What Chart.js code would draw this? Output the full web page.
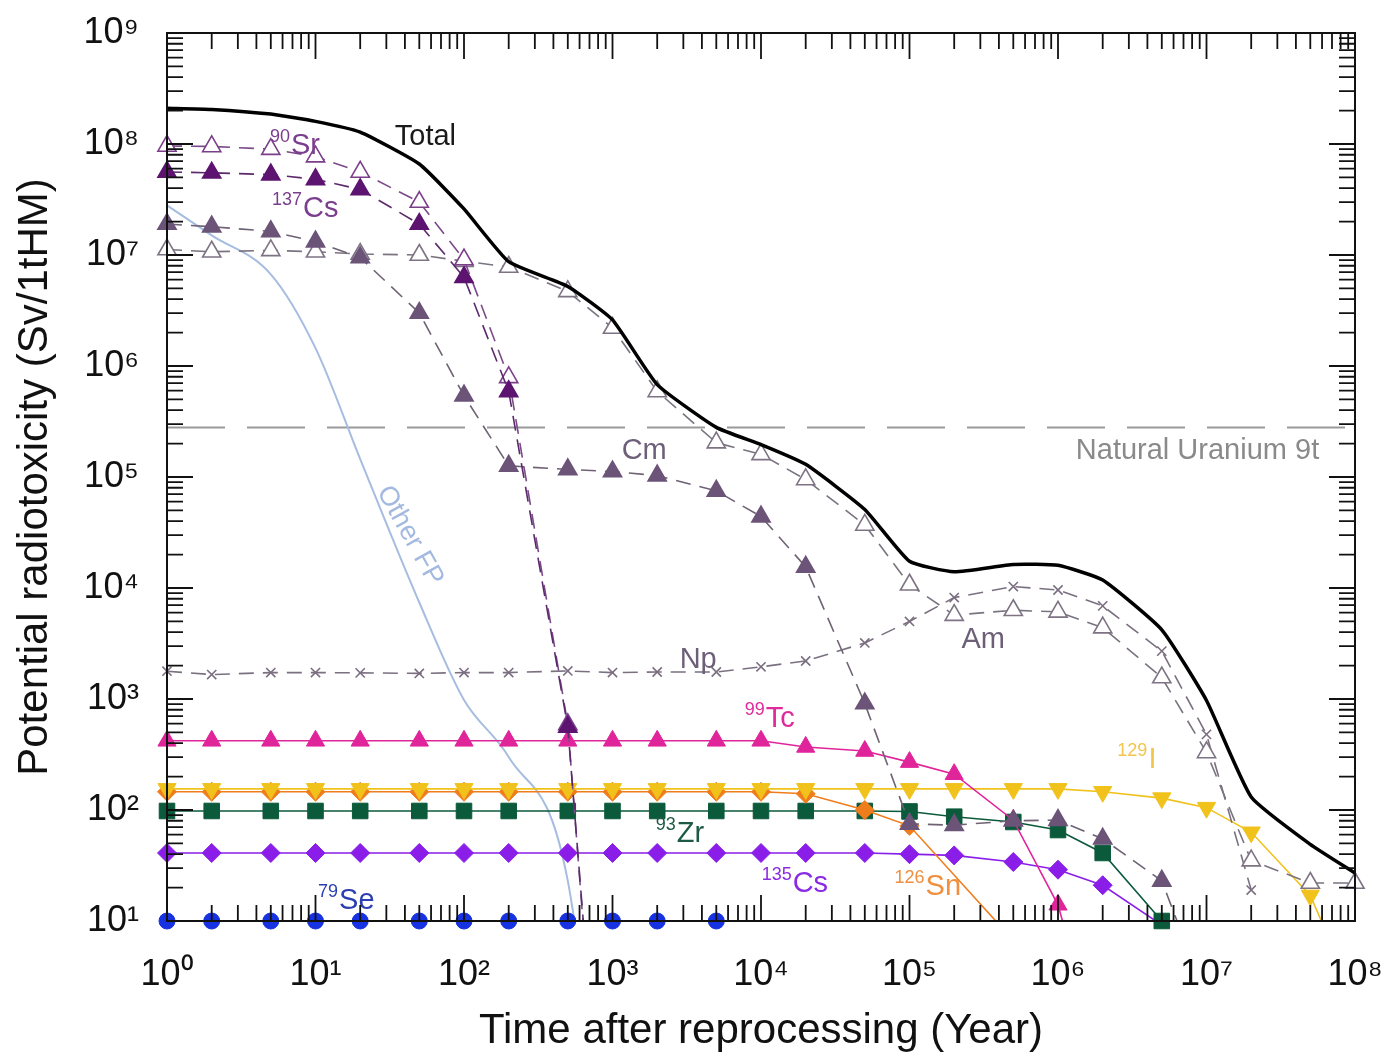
<!DOCTYPE html>
<html>
<head>
<meta charset="utf-8">
<title>Potential radiotoxicity after reprocessing</title>
<script src="https://cdn.jsdelivr.net/npm/chart.js@4.4.1/dist/chart.umd.min.js"></script>
<style>
  html, body { margin: 0; padding: 0; background: #fff; }
  #chart { display: block; }
</style>
</head>
<body>
<canvas id="chart" width="1388" height="1057"></canvas>
<script>
// Time points (years) shared by every series
const years = [1, 2, 5, 10, 20, 50, 100, 200, 500, 1e3, 2e3, 5e3, 1e4, 2e4, 5e4,
               1e5, 2e5, 5e5, 1e6, 2e6, 5e6, 1e7, 2e7, 5e7, 1e8];
const xTicks = [1, 1e1, 1e2, 1e3, 1e4, 1e5, 1e6, 1e7, 1e8];
const yTicks = [1e1, 1e2, 1e3, 1e4, 1e5, 1e6, 1e7, 1e8, 1e9];

// Potential radiotoxicity (Sv/1tHM)
const total   = [2.1e8, 2.05e8, 1.86e8, 1.6e8, 1.28e8, 6.6e7, 2.6e7, 8.7e6, 5.2e6, 2.6e6, 6.8e5, 2.8e5, 1.96e5,
                 1.3e5, 5.1e4, 1.74e4, 1.4e4, 1.63e4, 1.6e4, 1.18e4, 4.2e3, 970, 131, 49, 27];
const sr90    = [9.6e7, 9.5e7, 9e7, 7.7e7, 5.6e7, 3e7, 9.1e6, 7.9e5, 5.9e2, 3.5e-3, null, null, null,
                 null, null, null, null, null, null, null, null, null, null, null, null];
const cs137   = [5.6e7, 5.5e7, 5.3e7, 4.8e7, 3.9e7, 1.9e7, 6.3e6, 5.9e5, 5.6e2, 5e-3, null, null, null,
                 null, null, null, null, null, null, null, null, null, null, null, null];
const cm      = [1.9e7, 1.8e7, 1.63e7, 1.32e7, 9.5e6, 3.0e6, 5.4e5, 1.26e5, 1.17e5, 1.12e5, 1.03e5, 7.5e4, 4.4e4,
                 1.55e4, 9.1e2, 75, 73, 80, 81, 55, 23, 2, null, null, null];
const am      = [1.12e7, 1.07e7, 1.1e7, 1.07e7, 1.02e7, 1.0e7, 8.8e6, 7.8e6, 4.7e6, 2.2e6, 5.9e5, 2.04e5, 1.6e5,
                 9.5e4, 3.7e4, 1.07e4, 5.7e3, 6.3e3, 6.1e3, 4.4e3, 1.56e3, 3.3e2, 35, 22, 22];
const np      = [1.78e3, 1.66e3, 1.73e3, 1.73e3, 1.72e3, 1.7e3, 1.73e3, 1.73e3, 1.79e3, 1.73e3, 1.75e3, 1.75e3, 1.95e3,
                 2.2e3, 3.2e3, 5.0e3, 8.2e3, 1.03e4, 9.6e3, 6.9e3, 2.7e3, 4.8e2, 19, null, null];
const otherFP = [2.8e7, 1.5e7, 6.7e6, 1.45e6, 1.45e5, 7.4e3, 9.8e2, 3.0e2, 23, 1e-2, null, null, null,
                 null, null, null, null, null, null, null, null, null, null, null, null];
const tc99    = [420, 420, 420, 420, 420, 420, 420, 420, 420, 420, 420, 420, 420,
                 370, 340, 270, 210, 81, 14, 0.5, null, null, null, null, null];
const i129    = [155, 155, 155, 155, 155, 155, 155, 155, 155, 155, 155, 155, 155,
                 155, 155, 155, 155, 155, 155, 146, 128, 105, 63, 17, 2];
const sn126   = [146, 146, 146, 146, 146, 146, 146, 146, 146, 146, 146, 146, 146,
                 140, 100, 72, null, 6.7, null, null, null, null, null, null, null];
const zr93    = [98, 98, 98, 98, 98, 98, 98, 98, 98, 98, 98, 98, 98,
                 98, 98, 97, 87, 78, 66, 41, 10, null, null, null, null];
const cs135   = [41, 41, 41, 41, 41, 41, 41, 41, 41, 41, 41, 41, 41,
                 41, 41, 40, 39, 34, 29, 21, 9.2, null, null, null, null];
const se79    = [10, 10, 10, 10, 10, 10, 10, 10, 10, 10, 10, 10, null,
                 null, null, null, null, null, null, null, null, null, null, null, null];
const natUx   = [1, 1e8];
const natUy   = [2.79e5, 2.79e5];

// Curve annotations, placed in data coordinates
const curveLabels = [
  { sup: '',    text: 'Total',   x: 34.2,   y: 9.8e7,  color: '#1a1a1a' },
  { sup: '90',  text: 'Sr',      x: 4.93,   y: 8.1e7,  color: '#7b3d8e' },
  { sup: '137', text: 'Cs',      x: 5.09,   y: 2.18e7, color: '#7b3d8e' },
  { sup: '',    text: 'Cm',      x: 1153,   y: 1.44e5, color: '#6e5f78' },
  { sup: '',    text: 'Am',      x: 2.24e5, y: 2.9e3,  color: '#6e5f78' },
  { sup: '',    text: 'Np',      x: 2833,   y: 1.91e3, color: '#6e5f78' },
  { sup: '99',  text: 'Tc',      x: 7762,   y: 561,    color: '#e02a9c' },
  { sup: '129', text: 'I',       x: 2.51e6, y: 240,    color: '#f2c64a' },
  { sup: '93',  text: 'Zr',      x: 1954,   y: 51.5,   color: '#1d5a44' },
  { sup: '135', text: 'Cs',      x: 1.01e4, y: 18.2,   color: '#8a2be2' },
  { sup: '126', text: 'Sn',      x: 7.93e4, y: 17.1,   color: '#f08f3e' },
  { sup: '79',  text: 'Se',      x: 10.4,   y: 12.8,   color: '#2c3fb0' },
  { sup: '',    text: 'Natural Uranium 9t', x: 5.74e7, y: 1.44e5, color: '#8a8a8a', align: 'right' },
  { sup: '',    text: 'Other FP', x: 43.2,  y: 2.96e4, color: '#a3b9df', angle: 61 }
];

const FONT = '"Liberation Sans", Arial, Helvetica, sans-serif';
const SUP = '⁰¹²³⁴⁵⁶⁷⁸⁹';

function series(values) {
  return years.map((x, i) => ({ x: x, y: values[i] }));
}

function powerLabel(v) {
  const e = Math.round(Math.log10(v));
  return '10' + String(e).split('').map(d => SUP[+d]).join('');
}

// Keep the plot area where the figure has it: no extra room for edge labels
function noEdgePadding(axis) {
  axis.paddingLeft = 0;
  axis.paddingRight = 0;
  axis.paddingTop = 0;
  axis.paddingBottom = 0;
}

const clipEdge = { left: 14, right: 14, top: 14, bottom: 0 };
const clipOpen = { left: 14, right: 14, top: 14, bottom: 14 };

function dashed(label, values, color, markerColor, style, filled) {
  return {
    label: label,
    data: series(values),
    borderColor: color,
    borderWidth: 1.6,
    borderDash: [15, 9],
    pointStyle: style,
    pointRadius: style === 'crossRot' ? 6.5 : 10.5,
    pointBorderWidth: 1.6,
    pointBorderColor: markerColor,
    pointBackgroundColor: filled ? markerColor : '#ffffff',
    clip: clipEdge
  };
}

function solid(label, values, color, style, radius, rotation, clip) {
  return {
    label: label,
    data: series(values),
    borderColor: color,
    borderWidth: 1.6,
    pointStyle: style,
    pointRadius: radius,
    pointRotation: rotation,
    pointBorderWidth: 1,
    pointBorderColor: color,
    pointBackgroundColor: color,
    clip: clip
  };
}

// Earlier entries are painted on top of later ones
const datasets = [
  {
    label: 'Total',
    data: series(total),
    borderColor: '#000',
    borderWidth: 3.5,
    pointRadius: 0,
    tension: 0.15,
    clip: clipEdge
  },
  dashed('137Cs', cs137, '#5c2a6c', '#5c1470', 'triangle', true),
  dashed('90Sr', sr90, '#7b4a88', '#7b3f8a', 'triangle', false),
  dashed('Cm', cm, '#6e6274', '#6b5478', 'triangle', true),
  dashed('Am', am, '#7a7380', '#7d7383', 'triangle', false),
  dashed('Np', np, '#7a7080', '#7a6e80', 'crossRot', false),
  solid('99Tc', tc99, '#e0249a', 'triangle', 10.5, 0, clipEdge),
  solid('129I', i129, '#f0c21b', 'triangle', 10.5, 180, clipEdge),
  Object.assign(solid('126Sn', sn126, '#f07d1c', 'rectRot', 9.5, 0, clipEdge), { spanGaps: true }),
  solid('93Zr', zr93, '#0b5a3b', 'rect', 11, 0, clipOpen),
  solid('135Cs', cs135, '#8a1ee8', 'rectRot', 9.5, 0, clipEdge),
  solid('79Se', se79, '#1732e0', 'circle', 8, 0, clipOpen),
  {
    label: 'Other FP',
    data: series(otherFP),
    borderColor: '#a7bde0',
    borderWidth: 2,
    pointRadius: 0,
    cubicInterpolationMode: 'monotone',
    clip: clipEdge
  },
  {
    label: 'Natural Uranium 9t',
    data: natUx.map((x, i) => ({ x: x, y: natUy[i] })),
    borderColor: '#9a9a9a',
    borderWidth: 2,
    borderDash: [58, 22],
    pointRadius: 0,
    clip: clipEdge
  }
];

// Inward ticks on all four sides plus the frame
const frameTicks = {
  id: 'frameTicks',
  afterDraw(chart) {
    const { ctx, chartArea: a, scales: { x, y } } = chart;
    ctx.save();
    ctx.strokeStyle = '#111';
    ctx.lineWidth = 1.8;
    ctx.beginPath();
    for (let e = 0; e < 8; e++) {
      for (let m = 1; m < 10; m++) {
        const px = x.getPixelForValue(m * Math.pow(10, e));
        const len = m === 1 ? 26 : 16;
        ctx.moveTo(px, a.bottom); ctx.lineTo(px, a.bottom - len);
        ctx.moveTo(px, a.top); ctx.lineTo(px, a.top + len);
      }
    }
    for (let e = 1; e < 9; e++) {
      for (let m = 1; m < 10; m++) {
        const py = y.getPixelForValue(m * Math.pow(10, e));
        const len = m === 1 ? 26 : 16;
        ctx.moveTo(a.left, py); ctx.lineTo(a.left + len, py);
        ctx.moveTo(a.right, py); ctx.lineTo(a.right - len, py);
      }
    }
    ctx.stroke();
    ctx.lineWidth = 2;
    ctx.strokeRect(a.left, a.top, a.right - a.left, a.bottom - a.top);
    ctx.restore();
  }
};

const labelPlugin = {
  id: 'curveLabels',
  afterDatasetsDraw(chart) {
    const { ctx, scales: { x, y } } = chart;
    ctx.save();
    curveLabels.forEach(l => {
      const px = x.getPixelForValue(l.x);
      const py = y.getPixelForValue(l.y);
      ctx.fillStyle = l.color;
      ctx.textBaseline = 'alphabetic';
      if (l.angle) {
        ctx.save();
        ctx.translate(px, py);
        ctx.rotate(l.angle * Math.PI / 180);
        ctx.textAlign = 'center';
        ctx.textBaseline = 'middle';
        ctx.font = '27px ' + FONT;
        ctx.fillText(l.text, 0, 0);
        ctx.restore();
        return;
      }
      if (l.align === 'right') {
        ctx.textAlign = 'right';
        ctx.font = '29px ' + FONT;
        ctx.fillText(l.text, px, py);
        return;
      }
      ctx.textAlign = 'left';
      let cx = px;
      if (l.sup) {
        ctx.font = '18px ' + FONT;
        ctx.fillText(l.sup, cx, py - 12);
        cx += ctx.measureText(l.sup).width + 1;
      }
      ctx.font = '29px ' + FONT;
      ctx.fillText(l.text, cx, py);
    });
    ctx.restore();
  }
};

new Chart(document.getElementById('chart'), {
  type: 'line',
  data: { datasets: datasets },
  plugins: [labelPlugin, frameTicks],
  options: {
    responsive: false,
    animation: false,
    layout: { padding: { top: 33, right: 33, left: 0, bottom: 0 } },
    plugins: { legend: { display: false }, tooltip: { enabled: false } },
    elements: { line: { tension: 0 } },
    scales: {
      x: {
        type: 'logarithmic',
        min: 1,
        max: 1e8,
        afterBuildTicks: axis => { axis.ticks = xTicks.map(v => ({ value: v })); },
        afterFit: axis => { axis.height = 136; noEdgePadding(axis); },
        grid: { display: false },
        border: { display: false },
        ticks: {
          autoSkip: false,
          maxRotation: 0,
          padding: 24,
          color: '#111',
          font: { family: FONT, size: 36 },
          callback: v => powerLabel(v)
        },
        title: {
          display: true,
          text: 'Time after reprocessing (Year)',
          color: '#111',
          font: { family: FONT, size: 42 },
          padding: { top: 0, bottom: 0 }
        }
      },
      y: {
        type: 'logarithmic',
        min: 10,
        max: 1e9,
        afterBuildTicks: axis => { axis.ticks = yTicks.map(v => ({ value: v })); },
        afterFit: axis => { axis.width = 167; noEdgePadding(axis); },
        grid: { display: false },
        border: { display: false },
        ticks: {
          autoSkip: false,
          padding: 20,
          color: '#111',
          font: { family: FONT, size: 36 },
          callback: v => powerLabel(v)
        },
        title: {
          display: true,
          text: 'Potential radiotoxicity (Sv/1tHM)',
          color: '#111',
          font: { family: FONT, size: 42 },
          padding: { top: 10, bottom: 0 }
        }
      }
    }
  }
});
</script>
</body>
</html>
